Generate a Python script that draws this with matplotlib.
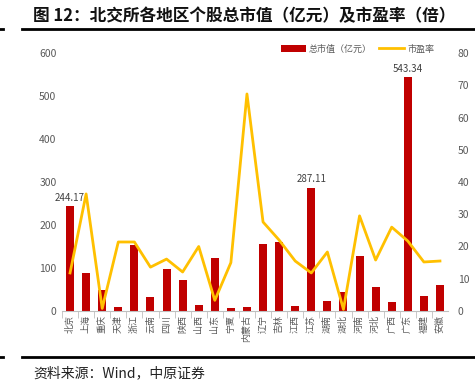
import matplotlib
matplotlib.use("Agg")
import matplotlib.pyplot as plt
from matplotlib.lines import Line2D

plt.rcParams["font.family"] = ["Noto Sans CJK SC", "DejaVu Sans"]

# -*- data

regions = ["北京", "上海", "重庆", "天津", "浙江", "云南", "四川", "陕西",
           "山西", "山东", "宁夏", "内蒙古", "辽宁", "吉林", "江西", "江苏",
           "湖南", "湖北", "河南", "河北", "广西", "广东", "福建", "安徽"]
mkt_cap = [244.17, 88, 48, 9, 153, 32, 97, 72, 14, 123, 8, 9,
           156, 160, 12, 287.11, 24, 45, 128, 55, 21, 543.34, 35, 60]
pe = [11.8, 36.3, 0.8, 21.4, 21.4, 13.6, 16.1, 12.1, 20.0, 3.3, 15.0, 67.3,
      27.6, 22.0, 15.5, 11.8, 18.3, 0.5, 29.5, 15.8, 26.0, 21.7, 15.2, 15.5]
labelled = ["北京", "江苏", "广东"]

bar_c = "#C00000"
line_c = "#FFC000"
txt_c = "#595959"

fig = plt.figure(figsize=(4.75, 3.89), dpi=100)

# -*- header / footer
fig.text(33 / 475, 1 - 16 / 389, "图 12：北交所各地区个股总市值（亿元）及市盈率（倍）",
         fontsize=12, fontweight="bold", va="center", ha="left", color="#111111")
fig.add_artist(Line2D([22 / 475, 1], [1 - 29 / 389] * 2, color="black", lw=2))
fig.add_artist(Line2D([0, 3 / 475], [1 - 29 / 389] * 2, color="black", lw=2))
fig.add_artist(Line2D([22 / 475, 1], [1 - 357 / 389] * 2, color="black", lw=2))
fig.add_artist(Line2D([0, 3 / 475], [1 - 357 / 389] * 2, color="black", lw=2))
fig.text(33 / 475, 1 - 373 / 389, "资料来源：Wind，中原证券", fontsize=10,
         va="center", ha="left", color="#222222")

# -*- chart
ax = fig.add_axes([62 / 475, 78 / 389, 386 / 475, 258 / 389])
x = list(range(len(regions)))
ax.bar(x, mkt_cap, width=0.5, color=bar_c, zorder=2, label="总市值（亿元）")
ax.set_xlim(-0.5, len(regions) - 0.5)
ax.set_ylim(0, 600)
ax.set_yticks(range(0, 601, 100))
ax.set_xticks(x)
ax.set_xticklabels(regions, rotation=90, fontsize=6.5, color=txt_c)
ax.set_xticks([i + 0.5 for i in x[:-1]] + [-0.5], minor=True)
ax.tick_params(axis="x", which="major", length=0, pad=3)
ax.tick_params(axis="x", which="minor", length=5, color="#BFBFBF")
ax.tick_params(axis="y", length=0, labelsize=7.5, labelcolor=txt_c, pad=4)
for s in ["top", "right", "left"]:
    ax.spines[s].set_visible(False)
ax.spines["bottom"].set_color("#BFBFBF")

for name, v in zip(regions, mkt_cap):
    if name in labelled:
        i = regions.index(name)
        ax.text(i, v + 8, f"{v:.2f}", ha="center", va="bottom", fontsize=7,
                color="#404040")

ax2 = ax.twinx()
ax2.plot(x, pe, color=line_c, lw=2, zorder=3, label="市盈率")
ax2.set_ylim(0, 80)
ax2.set_yticks(range(0, 81, 10))
ax2.tick_params(axis="y", length=0, labelsize=7.5, labelcolor=txt_c, pad=7)
for s in ["top", "right", "left", "bottom"]:
    ax2.spines[s].set_visible(False)

h1, l1 = ax.get_legend_handles_labels()
h2, l2 = ax2.get_legend_handles_labels()
ax2.legend(h1 + h2, l1 + l2, loc="upper right", bbox_to_anchor=(0.985, 1.065),
           ncol=2, frameon=False, fontsize=6.5, labelcolor=txt_c,
           handlelength=2.8, handleheight=0.7, columnspacing=0.8,
           handletextpad=0.3)

fig.savefig("out.png", dpi=100)
